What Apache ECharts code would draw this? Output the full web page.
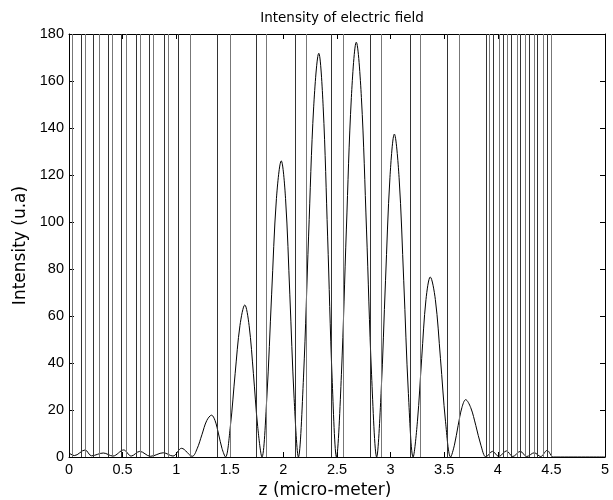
<!DOCTYPE html>
<html>
<head>
<meta charset="utf-8">
<script src="https://cdn.jsdelivr.net/npm/echarts@6/dist/echarts.min.js"></script>
<style>html,body{margin:0;padding:0;background:#fff}#c{width:613px;height:500px}</style>
</head>
<body>
<div id="c"></div>
<script>
// Intensity curve: z (micro-meter) and intensity (u.a)
const zValues = [
  0, 0.05, 0.15, 0.21, 0.32, 0.41, 0.51, 0.58, 0.66, 0.76, 0.88, 0.97, 1.05, 1.15,
  1.195, 1.24, 1.285, 1.33, 1.3625, 1.395, 1.4275, 1.46,
  1.505, 1.55, 1.595, 1.64, 1.68, 1.72, 1.76, 1.80,
  1.845, 1.89, 1.935, 1.98, 2.02, 2.06, 2.10, 2.14,
  2.1875, 2.235, 2.2825, 2.33, 2.371, 2.4125, 2.454, 2.495,
  2.541, 2.5875, 2.634, 2.68, 2.7275, 2.775, 2.8225, 2.87,
  2.911, 2.9525, 2.994, 3.035, 3.079, 3.1225, 3.166, 3.21,
  3.25, 3.29, 3.33, 3.37, 3.4175, 3.465, 3.5125, 3.56,
  3.595, 3.63, 3.665, 3.70, 3.7475, 3.795, 3.8425, 3.89,
  3.95, 4.01, 4.08, 4.14, 4.21, 4.27, 4.34, 4.40, 4.46, 4.52, 5.0
];
const intensity = [
  1.7, 0.6, 3.0, 0.5, 1.7, 0.4, 3.0, 0.4, 2.4, 0.3, 1.8, 0.4, 3.7, 0.3,
  3.5, 9.5, 15.5, 17.8, 15.5, 9.8, 3.6, 0,
  13, 35.6, 56, 64.7, 56, 35.6, 13, 0,
  25, 69, 110, 126, 110, 69, 25, 0,
  34, 94, 149, 171.8, 149, 94, 34, 0,
  35, 97, 153, 176.5, 153, 97, 35, 0,
  27, 75, 119, 137.4, 119, 75, 27, 0,
  15, 42, 67, 76.6, 67, 42, 15, 0,
  5, 13.4, 21, 24.4, 21, 13.4, 5, 0,
  2.4, 0.2, 2.6, 0.2, 2.4, 0.2, 1.8, 0.2, 2.8, 0, 0
];
// Layer boundaries (z, micro-meter)
const boundaries = [
  0.028, 0.112, 0.150, 0.234, 0.280, 0.374, 0.402, 0.495, 0.533, 0.626, 0.664,
  0.748, 0.794, 0.888, 0.925, 1.019, 1.131, 1.383, 1.495, 1.748, 1.841, 2.112,
  2.206, 2.449, 2.561, 2.813, 2.907, 3.178, 3.280, 3.533, 3.636, 3.888, 3.916,
  3.963, 4.009, 4.047, 4.093, 4.131, 4.178, 4.215, 4.262, 4.290, 4.336, 4.374,
  4.421, 4.458, 4.495
];
const xTicks = ['0','0.5','1','1.5','2','2.5','3','3.5','4','4.5','5'];
const yTicks = ['0','20','40','60','80','100','120','140','160','180'];

const FONT = 'Liberation Sans, Arial, sans-serif';
const FONT_WIDE = 'DejaVu Sans, Verdana, sans-serif';
const curve = zValues.map((z, i) => [z, intensity[i]]);

const chart = echarts.init(document.getElementById('c'), null, {renderer: 'canvas'});
function lineOpt() { return {show: true, onZero: false, lineStyle: {color: '#000', width: 1}}; }
function tickOpt() { return {show: true, inside: true, length: 5, lineStyle: {color: '#000', width: 1}}; }
chart.setOption({
  animation: false,
  backgroundColor: '#fff',
  title: {
    text: 'Intensity of electric field',
    left: 337, top: 6, textAlign: 'center',
    textStyle: {fontFamily: FONT_WIDE, fontSize: 13.5, fontWeight: 'normal', color: '#000'}
  },
  grid: {left: 69, right: 8, top: 34, bottom: 43, containLabel: false, outerBoundsMode: 'none'},
  xAxis: [{
      type: 'value', min: 0, max: 5, interval: 0.5, position: 'bottom',
      name: 'z (micro-meter)', nameLocation: 'middle', nameGap: 23,
      nameTextStyle: {fontFamily: FONT_WIDE, fontSize: 17, color: '#000', padding: [0, 24, 0, 0]},
      axisLine: lineOpt(), axisTick: tickOpt(), splitLine: {show: false},
      axisLabel: {fontFamily: FONT, fontSize: 14.5, color: '#000', margin: 5,
        formatter: (v) => xTicks[Math.round(v / 0.5)]}
    }, {
      type: 'value', min: 0, max: 5, interval: 0.5, position: 'top',
      axisLine: lineOpt(), axisTick: tickOpt(), splitLine: {show: false},
      axisLabel: {show: false}
    }],
  yAxis: [{
      type: 'value', min: 0, max: 180, interval: 20, position: 'left',
      name: 'Intensity (u.a)', nameLocation: 'middle', nameGap: 38,
      nameTextStyle: {fontFamily: FONT_WIDE, fontSize: 17, color: '#000'},
      axisLine: lineOpt(), axisTick: tickOpt(), splitLine: {show: false},
      axisLabel: {fontFamily: FONT, fontSize: 14.5, color: '#000', margin: 5,
        formatter: (v) => yTicks[Math.round(v / 20)]}
    }, {
      type: 'value', min: 0, max: 180, interval: 20, position: 'right',
      axisLine: lineOpt(), axisTick: tickOpt(), splitLine: {show: false},
      axisLabel: {show: false}
    }],
  series: [{
    type: 'line',
    xAxisIndex: 0, yAxisIndex: 0,
    data: curve,
    smooth: 0.35,
    showSymbol: false,
    symbol: 'none',
    clip: true,
    lineStyle: {color: '#000', width: 1},
    z: 3,
    markLine: {
      silent: true,
      symbol: ['none', 'none'],
      label: {show: false},
      data: boundaries.map((b, i) => ({
        xAxis: b,
        lineStyle: {color: i % 2 ? '#333' : '#777', width: 1, type: 'solid'}
      }))
    }
  }]
});
</script>
</body>
</html>
